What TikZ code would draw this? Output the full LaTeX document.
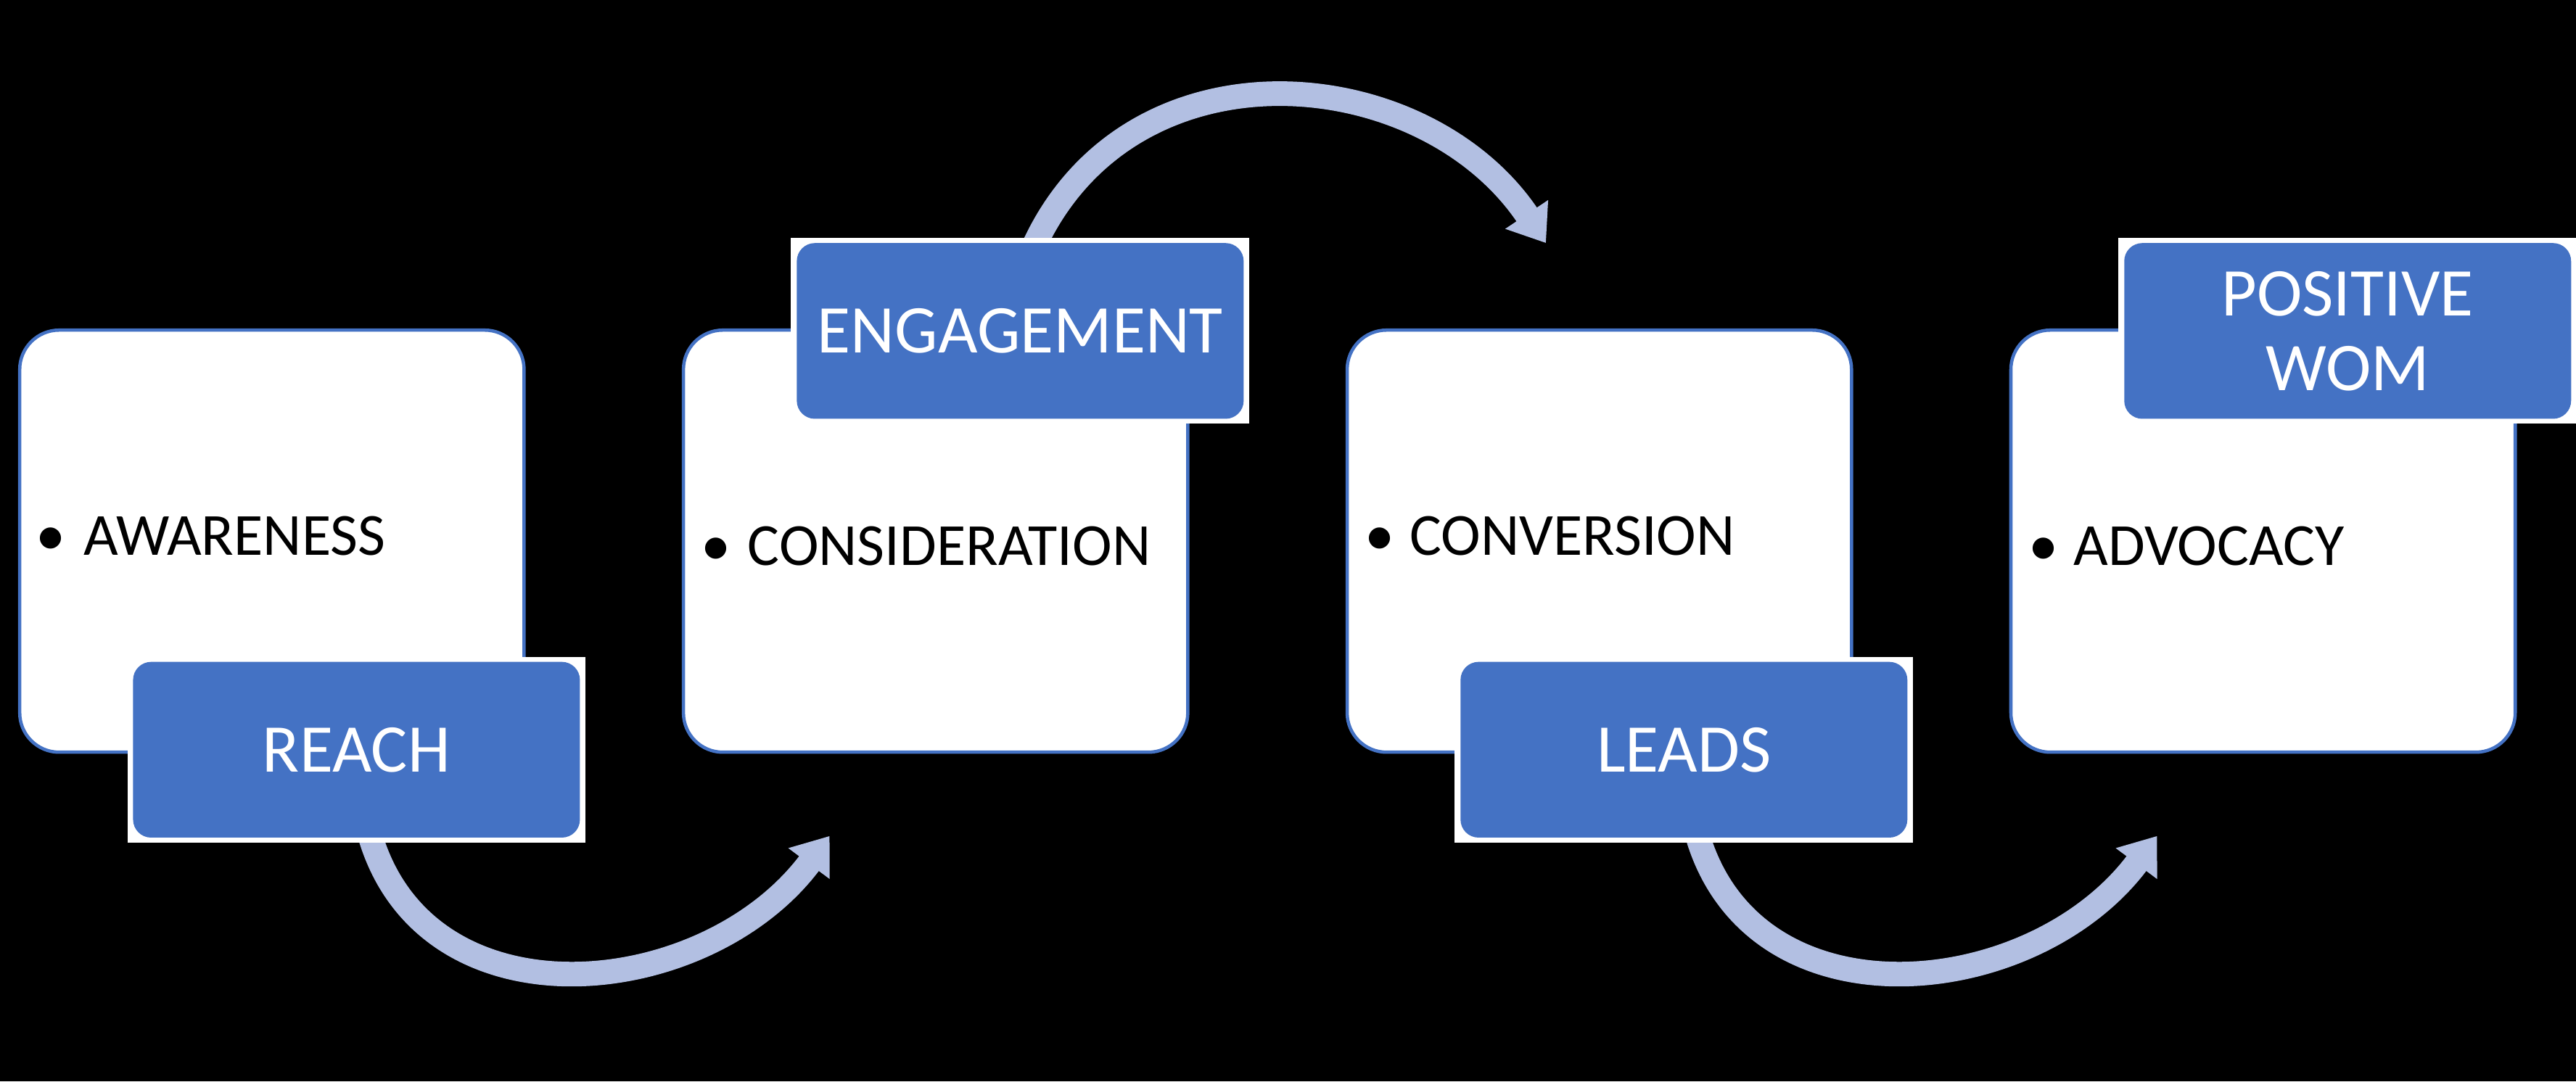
\documentclass[tikz,border=0pt]{standalone}
\usepackage{fontspec}
\setmainfont{Carlito}
\usetikzlibrary{arrows.meta}
\definecolor{boxblue}{HTML}{4472C4}
\definecolor{arrowblue}{RGB}{178,191,226}
\begin{document}
\begin{tikzpicture}[x=1pt,y=-1pt,
  stage/.style={draw=boxblue, line width=2pt, fill=white, rounded corners=24pt, minimum width=307pt, minimum height=257pt, inner sep=0pt},
  tagframe/.style={fill=white, minimum width=279pt, minimum height=113pt, inner sep=0pt},
  tag/.style={fill=boxblue, rounded corners=11pt, minimum width=272pt, minimum height=107pt, inner sep=0pt, text=white, font=\fontsize{41.6}{45.5}\selectfont, align=center},
  item/.style={anchor=base west, inner sep=0pt, font=\fontsize{36.4}{43}\selectfont},
  dot/.style={anchor=base, inner sep=0pt, font=\fontsize{36.4}{43}\selectfont},
  flow/.style={draw=arrowblue, line width=15pt, -{Triangle[width=30pt,length=21pt]}}
]
\fill[black] (0,0) rectangle (1568,658.4);
\useasboundingbox (0,0) rectangle (1568,658.4);

% stage boxes
\node[stage] (s1) at (165.5,329.5) {};
\node[stage] (s2) at (569.5,329.5) {};
\node[stage] (s3) at (973.5,329.5) {};
\node[stage] (s4) at (1377.5,329.5) {};

% bullet items
\node[dot] (b1) at (31,338) {•};
\node[item] (t1) at (51,338) {AWARENESS};
\node[dot] (b2) at (436,344) {•};
\node[item] (t2) at (455,344) {CONSIDERATION};
\node[dot] (b3) at (840,338) {•};
\node[item] (t3) at (858,338) {CONVERSION};
\node[dot] (b4) at (1244,344) {•};
\node[item] (t4) at (1262,344) {ADVOCACY};

% curved arrows
\coordinate (a1s) at (223,500);
\coordinate (a1e) at (505,509);
\coordinate (a2s) at (625,160);
\coordinate (a2e) at (941,148);
\coordinate (a3s) at (1031,500);
\coordinate (a3e) at (1313,509);
\draw[flow] (a1s) .. controls (252,628) and (428,612) .. (a1e);
\draw[flow] (a2s) .. controls (680,20) and (865,35) .. (a2e);
\draw[flow] (a3s) .. controls (1060,628) and (1236,612) .. (a3e);

% label tags
\node[tagframe] (f1) at (217,456.5) {};
\node[tag] (reach) at (f1) {REACH};
\node[tagframe] (f2) at (621,201.5) {};
\node[tag] (engagement) at (f2) {ENGAGEMENT};
\node[tagframe] (f3) at (1025,456.5) {};
\node[tag] (leads) at (f3) {LEADS};
\node[tagframe] (f4) at (1429,201.5) {};
\node[tag] (wom) at (f4) {POSITIVE\\WOM};
\end{tikzpicture}
\end{document}
